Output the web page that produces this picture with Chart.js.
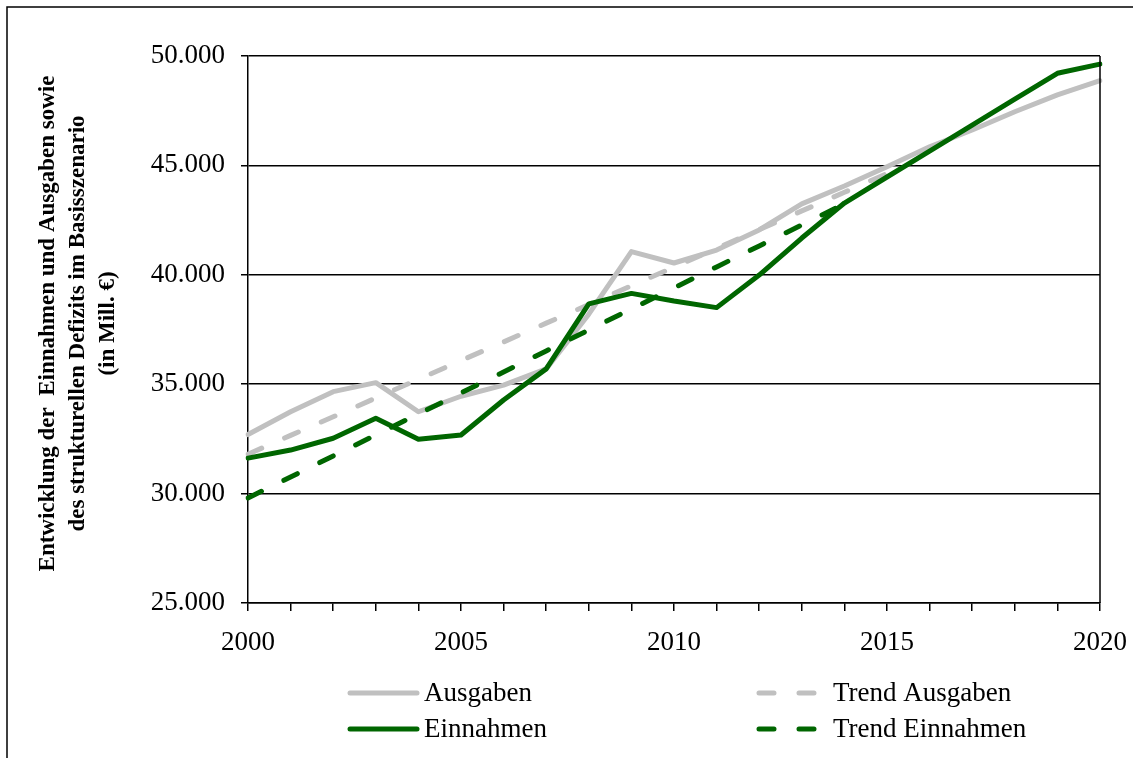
<!DOCTYPE html>
<html>
<head>
<meta charset="utf-8">
<script src="https://cdn.jsdelivr.net/npm/chart.js@4.4.1/dist/chart.umd.min.js"></script>
<style>
    html, body { margin: 0; padding: 0; background: #fff; }
    #wrap { width: 1133px; height: 758px; }
</style>
</head>
<body>
<div id="wrap"><canvas id="chart" width="1133" height="758"></canvas></div>
<script>
// ─── Data ───
const years = [2000, 2001, 2002, 2003, 2004, 2005, 2006, 2007, 2008, 2009, 2010,
               2011, 2012, 2013, 2014, 2015, 2016, 2017, 2018, 2019, 2020];

const ausgaben = [32700, 33740, 34660, 35070, 33740, 34450, 34960, 35700, 38200, 41060, 40540,
                  41130, 42050, 43240, 44060, 44940, 45850, 46620, 47450, 48220, 48870];

const einnahmen = [31620, 31990, 32530, 33440, 32480, 32680, 34280, 35700, 38670, 39150, 38800,
                   38500, 39990, 41680, 43280, 44470, 45650, 46840, 48030, 49210, 49630];

const trendAusgaben = [31800, 32660, 33510, 34370, 35220, 36080, 36930, 37790, 38640, 39500, 40350,
                       41210, 42060, 42920, 43770, 44630, null, null, null, null, null];

const trendEinnahmen = [29800, 30760, 31720, 32680, 33640, 34600, 35560, 36520, 37480, 38440, 39400,
                        40360, 41320, 42280, 43240, null, null, null, null, null, null];

const yTitle = ['Entwicklung der  Einnahmen und Ausgaben sowie',
                'des strukturellen Defizits im Basisszenario',
                '(in Mill. €)'];

const GRAY = '#c0c0c0';
const GREEN = '#006600';
const SERIF = '"Liberation Serif", "Times New Roman", serif';
const DASH = [15, 25];

function fmt(v) {
    return String(v).replace(/\B(?=(\d{3})+(?!\d))/g, '.');
}

// ─── Extras: frame, right border, rotated y title, two-column legend ───
const extras = {
    id: 'extras',
    beforeDraw(chart) {
        const c = chart.ctx;
        c.save();
        c.strokeStyle = '#000';
        c.lineWidth = 1.5;
        c.beginPath();
        c.moveTo(7, 758);
        c.lineTo(7, 7);
        c.lineTo(1133, 7);
        c.stroke();
        c.restore();
    },
    afterDraw(chart) {
        const c = chart.ctx;
        const a = chart.chartArea;
        c.save();

        // right border of plot
        c.strokeStyle = '#000';
        c.lineWidth = 1.5;
        c.beginPath();
        c.moveTo(a.right, a.top);
        c.lineTo(a.right, a.bottom);
        c.stroke();

        // y title
        c.fillStyle = '#000';
        c.font = 'bold 23px ' + SERIF;
        c.textAlign = 'center';
        c.textBaseline = 'middle';
        c.translate(0, (a.top + a.bottom) / 2 - 6);
        c.rotate(-Math.PI / 2);
        yTitle.forEach((t, i) => c.fillText(t, 0, 48 + i * 30));
        c.restore();

        // legend
        const items = [
            { ds: 1, x: 348, y: 693 },
            { ds: 3, x: 757, y: 693 },
            { ds: 0, x: 348, y: 729 },
            { ds: 2, x: 757, y: 729 },
        ];
        c.save();
        c.font = '27px ' + SERIF;
        c.textBaseline = 'middle';
        c.fillStyle = '#000';
        items.forEach(it => {
            const d = chart.data.datasets[it.ds];
            c.strokeStyle = d.borderColor;
            c.lineWidth = 5;
            c.lineCap = 'round';
            c.setLineDash(d.borderDash || []);
            c.beginPath();
            c.moveTo(it.x + 2, it.y);
            c.lineTo(it.x + (d.borderDash ? 62 : 69), it.y);
            c.stroke();
            c.setLineDash([]);
            c.fillText(d.label, it.x + 76, it.y + 1);
        });
        c.restore();
    }
};

new Chart(document.getElementById('chart'), {
    type: 'line',
    data: {
        labels: years,
        datasets: [
            {
                label: 'Einnahmen', data: einnahmen, borderColor: GREEN, order: 0,
            },
            {
                label: 'Ausgaben', data: ausgaben, borderColor: GRAY, order: 2,
            },
            {
                label: 'Trend Einnahmen', data: trendEinnahmen, borderColor: GREEN,
                borderDash: DASH, order: 1,
            },
            {
                label: 'Trend Ausgaben', data: trendAusgaben, borderColor: GRAY,
                borderDash: DASH, order: 3,
            },
        ],
    },
    options: {
        responsive: false,
        animation: false,
        layout: { padding: { top: 56, right: 33, bottom: 100, left: 0 } },
        elements: {
            line: { borderWidth: 5, tension: 0, fill: false, borderCapStyle: 'round', borderJoinStyle: 'round' },
            point: { radius: 0 },
        },
        plugins: {
            legend: { display: false },
            tooltip: { enabled: false },
        },
        scales: {
            x: {
                offset: false,
                afterFit(s) { s.height = 55; s.paddingLeft = 0; s.paddingRight = 0; },
                grid: { drawOnChartArea: false, drawTicks: true, tickLength: 8, color: '#000', lineWidth: 1.5 },
                border: { color: '#000', width: 1.5 },
                ticks: {
                    autoSkip: false, maxRotation: 0, padding: 16, color: '#000',
                    font: { family: SERIF, size: 27 },
                    callback(v) {
                        const y = this.getLabelForValue(v);
                        return y % 5 === 0 ? String(y) : '';
                    },
                },
            },
            y: {
                min: 25000, max: 50000,
                afterFit(s) { s.width = 248; },
                grid: { color: '#000', lineWidth: 1.5, tickLength: 7 },
                border: { color: '#000', width: 1.5 },
                ticks: {
                    stepSize: 5000, padding: 16, color: '#000',
                    font: { family: SERIF, size: 27 },
                    callback: v => fmt(v),
                },
            },
        },
    },
    plugins: [extras],
});
</script>
</body>
</html>
